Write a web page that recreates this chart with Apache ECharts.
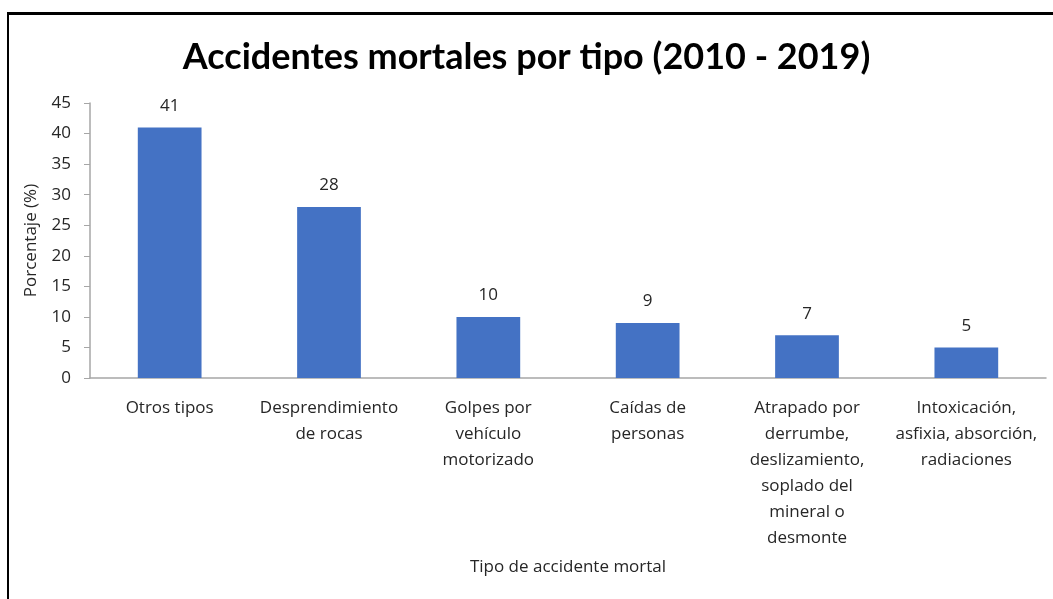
<!DOCTYPE html>
<html>
<head>
<meta charset="utf-8">
<script src="https://cdn.jsdelivr.net/npm/echarts@6/dist/echarts.min.js"></script>
<style>
    html, body { margin: 0; padding: 0; background: #fff; }
    #chart { width: 1053px; height: 599px; }
    .frame {
        position: absolute;
        left: 7px;
        top: 12px;
        width: 1100px;
        height: 700px;
        border-left: 2px solid #000;
        border-top: 3px solid #000;
        pointer-events: none;
    }
</style>
</head>
<body>
<div id="chart"></div>
<div class="frame"></div>
<script>
// tipos de accidente (eje x)
const categorias = [
    'Otros tipos',
    'Desprendimiento\nde rocas',
    'Golpes por\nvehículo\nmotorizado',
    'Caídas de\npersonas',
    'Atrapado por\nderrumbe,\ndeslizamiento,\nsoplado del\nmineral o\ndesmonte',
    'Intoxicación,\nasfixia, absorción,\nradiaciones'
];
// porcentaje de accidentes
const porcentajes = [41, 28, 10, 9, 7, 5];

const chart = echarts.init(document.getElementById('chart'));
const txt = '#262626';
const font = '"Open Sans", sans-serif';

let option = {
    title: {
        text: 'Accidentes mortales por tipo (2010 - 2019)',
        left: 'center',
        top: 34,
        textStyle: {
            fontFamily: 'Lato, sans-serif',
            fontWeight: 'bold',
            fontSize: 36,
            color: '#000'
        }
    },
    grid: {
        left: 90,
        right: 7,
        top: 103,
        bottom: 221,
        containLabel: false
    },
    xAxis: {
        type: 'category',
        data: categorias,
        name: 'Tipo de accidente mortal',
        nameLocation: 'middle',
        nameGap: 181,
        nameTextStyle: { fontFamily: font, fontSize: 17, color: txt },
        axisLine: { lineStyle: { color: '#a6a6a6', width: 1.5 } },
        axisTick: { show: false },
        axisLabel: {
            interval: 0,
            margin: 17,
            fontFamily: font,
            fontSize: 17,
            lineHeight: 26,
            color: txt,
            align: 'center'
        }
    },
    yAxis: {
        type: 'value',
        min: 0,
        max: 45,
        interval: 5,
        name: 'Porcentaje (%)',
        nameLocation: 'middle',
        nameGap: 50,
        nameTextStyle: { fontFamily: font, fontSize: 17, color: txt },
        axisLine: { show: true, lineStyle: { color: '#a6a6a6', width: 1.5 } },
        axisTick: { show: true, length: 6, lineStyle: { color: '#a6a6a6' } },
        splitLine: { show: false },
        axisLabel: {
            margin: 19,
            fontFamily: font,
            fontSize: 17,
            color: txt
        }
    },
    series: [{
        type: 'bar',
        data: porcentajes,
        barWidth: '40%',
        itemStyle: { color: '#4472C4' },
        label: {
            show: true,
            position: 'top',
            distance: 13,
            fontFamily: font,
            fontSize: 17,
            color: txt
        }
    }]
};

chart.setOption(option);
</script>
</body>
</html>
